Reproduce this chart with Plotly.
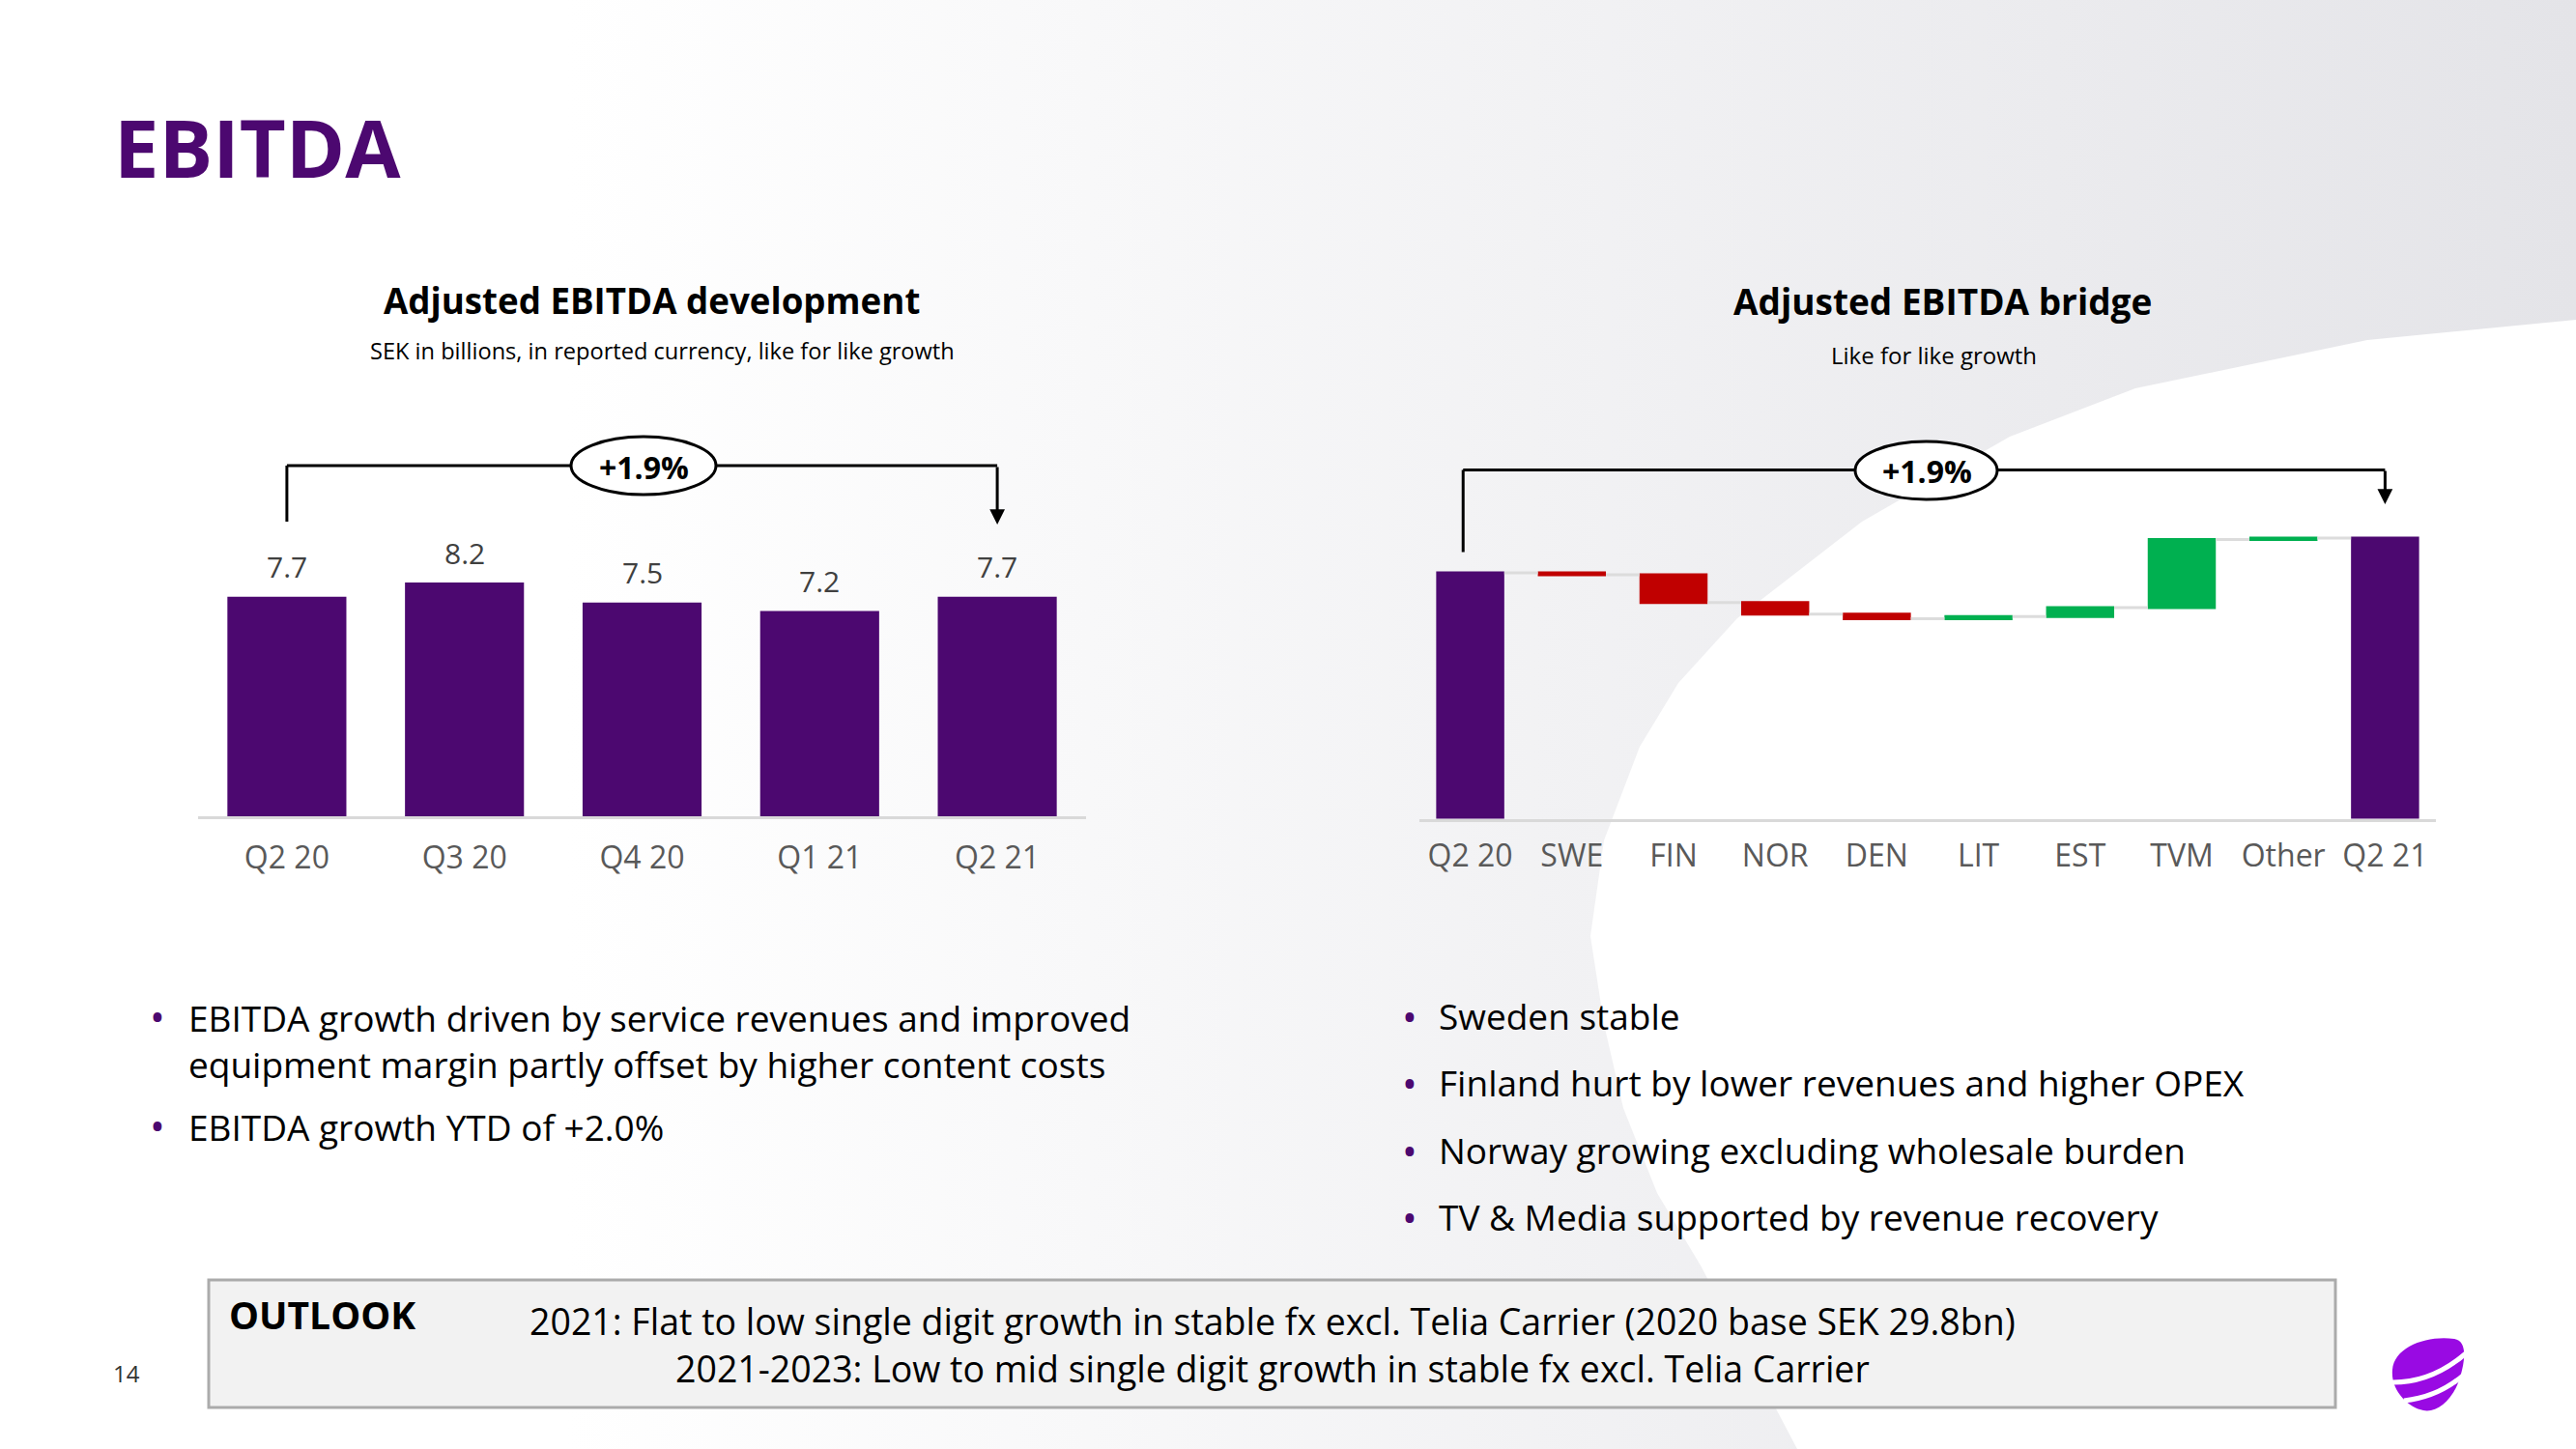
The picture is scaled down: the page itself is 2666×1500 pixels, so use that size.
import plotly.graph_objects as go

W, H = 2666, 1500

# ---------------- data ----------------
dev_quarters = ["Q2 20", "Q3 20", "Q4 20", "Q1 21", "Q2 21"]
dev_values = [7.7, 8.2, 7.5, 7.2, 7.7]

bridge_categories = ["Q2 20", "SWE", "FIN", "NOR", "DEN", "LIT", "EST", "TVM", "Other", "Q2 21"]
bridge_measures = ["absolute", "relative", "relative", "relative", "relative",
                   "relative", "relative", "relative", "relative", "total"]
bridge_values = [7.60, -0.008, -0.114, -0.048, -0.019, 0.009, 0.037, 0.280, 0.006, 0]

growth_label = "+1.9%"

page_title = "EBITDA"
left_title = "Adjusted EBITDA development"
left_subtitle = "SEK in billions, in reported currency, like for like growth"
right_title = "Adjusted EBITDA bridge"
right_subtitle = "Like for like growth"

left_bullets = [
    ["EBITDA growth driven by service revenues and improved",
     "equipment margin partly offset by higher content costs"],
    ["EBITDA growth YTD of +2.0%"],
]
right_bullets = [
    "Sweden stable",
    "Finland hurt by lower revenues and higher OPEX",
    "Norway growing excluding wholesale burden",
    "TV & Media supported by revenue recovery",
]
outlook_label = "OUTLOOK"
outlook_lines = [
    "2021: Flat to low single digit growth in stable fx excl. Telia Carrier (2020 base SEK 29.8bn)",
    "2021-2023: Low to mid single digit growth in stable fx excl. Telia Carrier",
]
page_number = "14"

# ---------------- style ----------------
PURPLE = "#4C0870"
TELIA = "#990AE3"
RED = "#C00000"
GREEN = "#00B050"
FONT = "Open Sans"


def px(x):
    return x / W


def py(y):
    return 1 - y / H


fig = go.Figure()

# background gradient (full-page hidden axes)
curve = [(2666, 331), (2450, 352), (2210, 402), (2080, 452), (1927, 540), (1798, 640),
         (1737, 707), (1697, 773), (1660, 870), (1646, 969), (1660, 1060), (1680, 1147),
         (1715, 1235), (1760, 1310), (1860, 1500)]
bg_x = [0, W] + [c[0] for c in curve] + [0, 0]
bg_y = [0, 0] + [c[1] for c in curve] + [H, 0]
fig.add_trace(go.Scatter(
    x=bg_x, y=bg_y, mode="lines", fill="toself", line=dict(width=0),
    fillgradient=dict(type="horizontal",
                      colorscale=[[0, "#FFFFFF"], [0.22, "#FFFFFF"], [1, "#E4E4E8"]]),
    hoverinfo="skip", showlegend=False, xaxis="x", yaxis="y"))

# left bar chart
fig.add_trace(go.Bar(
    x=dev_quarters, y=dev_values, marker=dict(color=PURPLE, line=dict(width=0)),
    width=0.67, xaxis="x2", yaxis="y2", showlegend=False, hoverinfo="skip"))

# right waterfall
fig.add_trace(go.Waterfall(
    x=bridge_categories, y=bridge_values, measure=bridge_measures,
    width=0.67,
    increasing=dict(marker=dict(color=GREEN)),
    decreasing=dict(marker=dict(color=RED)),
    totals=dict(marker=dict(color=PURPLE)),
    connector=dict(mode="between", line=dict(color="#DCDCDC", width=3)),
    xaxis="x3", yaxis="y3", showlegend=False, hoverinfo="skip"))

tickfont = dict(family=FONT, size=32, color="#595959")

fig.update_layout(
    width=W, height=H, autosize=False,
    margin=dict(l=0, r=0, t=0, b=0),
    paper_bgcolor="#FFFFFF", plot_bgcolor="rgba(0,0,0,0)",
    font=dict(family=FONT, color="#000000"),
    showlegend=False,
    xaxis=dict(domain=[0, 1], range=[0, W], visible=False, fixedrange=True),
    yaxis=dict(domain=[0, 1], range=[H, 0], visible=False, fixedrange=True),
    xaxis2=dict(domain=[px(205), px(1124)], anchor="y2", type="category",
                showline=True, linecolor="#D9D9D9", linewidth=3, showgrid=False,
                zeroline=False, ticks="outside", ticklen=13, tickcolor="rgba(0,0,0,0)",
                tickfont=tickfont),
    yaxis2=dict(domain=[py(845), py(560)], anchor="x2", range=[0, 9.66],
                visible=False, showgrid=False, zeroline=False),
    xaxis3=dict(domain=[px(1469), px(2521)], anchor="y3", type="category",
                showline=True, linecolor="#D9D9D9", linewidth=3, showgrid=False,
                zeroline=False, ticks="outside", ticklen=8, tickcolor="rgba(0,0,0,0)",
                tickfont=tickfont),
    yaxis3=dict(domain=[py(847.5), py(540)], anchor="x3", range=[6.59, 7.81],
                visible=False, showgrid=False, zeroline=False),
)

shapes = []
annotations = []

# bracket left chart
shapes.append(dict(type="line", xref="x2", yref="paper", x0=0, x1=0, y0=py(540), y1=py(482),
                   line=dict(color="#000000", width=3), layer="above"))
shapes.append(dict(type="line", xref="x2", yref="paper", x0=0, x1=4, y0=py(482), y1=py(482),
                   line=dict(color="#000000", width=3), layer="above"))
annotations.append(dict(xref="x2", yref="paper", x=4, y=py(543), ax=0, ay=-61, text="",
                        showarrow=True, arrowhead=2, arrowsize=1.05, arrowwidth=3,
                        arrowcolor="#000000", standoff=0))
shapes.append(dict(type="circle", xref="paper", yref="paper", x0=px(591), x1=px(741),
                   y0=py(512), y1=py(452), fillcolor="#FFFFFF",
                   line=dict(color="#000000", width=3), layer="above"))
annotations.append(dict(xref="paper", yref="paper", x=px(666), y=py(483), text="<b>" + growth_label + "</b>",
                        showarrow=False, xanchor="center", yanchor="middle",
                        font=dict(family=FONT, size=32, color="#000000")))

# bracket right chart
shapes.append(dict(type="line", xref="x3", yref="paper", x0=-0.07, x1=-0.07, y0=py(571.5), y1=py(486.5),
                   line=dict(color="#000000", width=3), layer="above"))
shapes.append(dict(type="line", xref="x3", yref="paper", x0=-0.07, x1=9, y0=py(486.5), y1=py(486.5),
                   line=dict(color="#000000", width=3), layer="above"))
annotations.append(dict(xref="x3", yref="paper", x=9, y=py(522), ax=0, ay=-36, text="",
                        showarrow=True, arrowhead=2, arrowsize=1.05, arrowwidth=3,
                        arrowcolor="#000000", standoff=0))
shapes.append(dict(type="circle", xref="paper", yref="paper", x0=px(1920), x1=px(2067),
                   y0=py(517), y1=py(457), fillcolor="#FFFFFF",
                   line=dict(color="#000000", width=3), layer="above"))
annotations.append(dict(xref="paper", yref="paper", x=px(1994), y=py(488), text="<b>" + growth_label + "</b>",
                        showarrow=False, xanchor="center", yanchor="middle",
                        font=dict(family=FONT, size=32, color="#000000")))

# value labels on left bars
for q, v in zip(dev_quarters, dev_values):
    annotations.append(dict(xref="x2", yref="y2", x=q, y=v, text=f"{v:.1f}", showarrow=False,
                            xanchor="center", yanchor="middle", yshift=31,
                            font=dict(family=FONT, size=30, color="#404040")))

# titles
annotations.append(dict(xref="paper", yref="paper", x=px(116), y=py(152), text="<b>" + page_title + "</b>",
                        showarrow=False, xanchor="left", yanchor="middle",
                        font=dict(family=FONT, size=83, color=PURPLE)))
annotations.append(dict(xref="paper", yref="paper", x=px(675), y=py(311), text="<b>" + left_title + "</b>",
                        showarrow=False, xanchor="center", yanchor="middle",
                        font=dict(family=FONT, size=36.7, color="#000000")))
annotations.append(dict(xref="paper", yref="paper", x=px(685), y=py(363), text=left_subtitle,
                        showarrow=False, xanchor="center", yanchor="middle",
                        font=dict(family=FONT, size=23.6, color="#000000")))
annotations.append(dict(xref="paper", yref="paper", x=px(2010), y=py(312), text="<b>" + right_title + "</b>",
                        showarrow=False, xanchor="center", yanchor="middle",
                        font=dict(family=FONT, size=37, color="#000000")))
annotations.append(dict(xref="paper", yref="paper", x=px(2001), y=py(367), text=right_subtitle,
                        showarrow=False, xanchor="center", yanchor="middle",
                        font=dict(family=FONT, size=24, color="#000000")))

# left bullets (multi-line bullets as one text block)
bullet_font = dict(family=FONT, size=37, color="#000000")
dot_font = dict(family=FONT, size=42, color=PURPLE)
left_first_y = [1051, 1164]
for lines, y0 in zip(left_bullets, left_first_y):
    annotations.append(dict(xref="paper", yref="paper", x=px(163), y=py(y0), text="•",
                            showarrow=False, xanchor="center", yanchor="middle", font=dot_font))
    annotations.append(dict(xref="paper", yref="paper", x=px(193), y=py(y0 - 25), text="<br>".join(lines),
                            showarrow=False, xanchor="left", yanchor="top", align="left",
                            font=bullet_font))

# right bullets
right_y = [1051, 1120, 1190, 1259]
for line, yy in zip(right_bullets, right_y):
    annotations.append(dict(xref="paper", yref="paper", x=px(1459), y=py(yy), text="•",
                            showarrow=False, xanchor="center", yanchor="middle", font=dot_font))
    annotations.append(dict(xref="paper", yref="paper", x=px(1487), y=py(yy), text=line,
                            showarrow=False, xanchor="left", yanchor="middle", font=bullet_font))

# outlook box
shapes.append(dict(type="rect", xref="paper", yref="paper", x0=px(216), x1=px(2417),
                   y0=py(1457), y1=py(1325), fillcolor="#F2F2F2",
                   line=dict(color="#ABABAB", width=3), layer="above"))
annotations.append(dict(xref="paper", yref="paper", x=px(235), y=py(1360), text="<b>" + outlook_label + "</b>",
                        showarrow=False, xanchor="left", yanchor="middle",
                        font=dict(family=FONT, size=39, color="#000000")))
annotations.append(dict(xref="paper", yref="paper", x=px(1317), y=py(1392), text="<br>".join(outlook_lines),
                        showarrow=False, xanchor="center", yanchor="middle", align="center",
                        font=dict(family=FONT, size=37.5, color="#000000")))

annotations.append(dict(xref="paper", yref="paper", x=px(131), y=py(1421), text=page_number,
                        showarrow=False, xanchor="center", yanchor="middle",
                        font=dict(family=FONT, size=24, color="#333333")))


# Telia logo (pebble with two stripes)
def P(x, y):
    return f"{px(x):.5f},{py(y):.5f}"


egg = (f"M{P(2476,1418)} C{P(2478,1394)} {P(2512,1382)} {P(2540,1386)} "
       f"C{P(2553,1388)} {P(2552,1406)} {P(2546,1426)} "
       f"C{P(2539,1449)} {P(2522,1463)} {P(2508,1460)} "
       f"C{P(2493,1457)} {P(2474,1440)} {P(2476,1418)} Z")
shapes.append(dict(type="path", xref="paper", yref="paper", path=egg, fillcolor=TELIA,
                   line=dict(width=0), layer="above"))
for s in [f"M{P(2474,1431)} Q{P(2516,1432)} {P(2552,1401)}",
          f"M{P(2488,1450)} Q{P(2524,1446)} {P(2550,1423)}"]:
    shapes.append(dict(type="path", xref="paper", yref="paper", path=s,
                       line=dict(color="#FFFFFF", width=5), layer="above"))

fig.update_layout(shapes=shapes, annotations=annotations)
fig.write_html("out.html", config={"displayModeBar": False},
               post_script="document.body.style.margin='0';document.body.style.overflow='hidden';")
